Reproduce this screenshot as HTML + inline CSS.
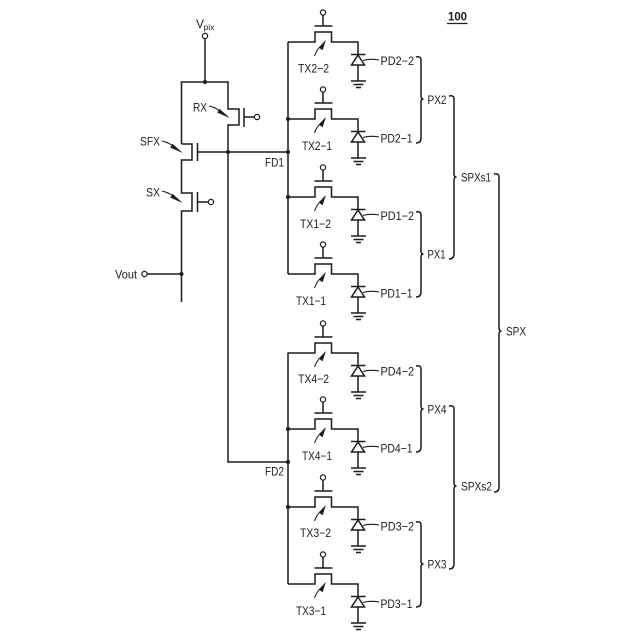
<!DOCTYPE html>
<html><head><meta charset="utf-8">
<style>
html,body{margin:0;padding:0;background:#fff;width:640px;height:640px;overflow:hidden}
svg{display:block}
text{font-family:"Liberation Sans",sans-serif;font-size:12px;fill:#1c1c1c}
.w{fill:none;stroke:#1c1c1c;stroke-width:1.5}
.t{fill:none;stroke:#1c1c1c;stroke-width:1.1}
.c{fill:#fff;stroke:#1c1c1c;stroke-width:1.2}
.d{fill:#1c1c1c}
.h{fill:#1c1c1c;stroke:#1c1c1c;stroke-width:.4}
</style></head>
<body>
<svg width="640" height="640" viewBox="0 0 640 640" xmlns="http://www.w3.org/2000/svg">
<defs>
<g id="b">
<path class="w" d="M288 42H315V32H331.500V42H358V81"/>
<path class="w" d="M314.500 26H332.500M323 26V15"/>
<circle class="c" cx="323" cy="12.500" r="2.600"/>
<path class="w" d="M351 54.500H365.500"/>
<path class="c" d="M358 55L351.500 65H364.500Z" style="stroke-width:1.500"/>
<path class="w" d="M351 81H366M353.500 84.500H363.500M356 87.500H361"/>
<path class="t" d="M363 60.500Q370 58.500 379 60"/>
<path class="t" d="M314.500 56Q317 49 321.500 45.500"/>
<path class="h" d="M325.500 40.500L319 47.500L322.500 50Z"/>
</g>
<g id="a">
<path class="t" d="M0 0Q9 2 14 8"/>
<path class="h" d="M20 11.500L10.500 3L8.500 6.500Z"/>
</g>
</defs>

<!-- left circuit -->
<text x="196" y="28">V</text><text x="203.500" y="30" style="font-size:8.500px">pix</text>
<circle class="c" cx="205" cy="36" r="2.600"/>
<path class="w" d="M205 38.500V82"/>
<path class="w" d="M181.500 144V82H228V109H239V125H228V462H288"/>
<path class="w" d="M181.500 144H192V160H181.500V193H192V211H181.500V302"/>
<path class="w" d="M244 108V127M244 117H255"/>
<circle class="c" cx="257" cy="117" r="2.600"/>
<path class="w" d="M197.500 143V161M197.500 152H288"/>
<path class="w" d="M197.500 192V212M197.500 202H208"/>
<circle class="c" cx="211" cy="202" r="2.600"/>
<circle class="c" cx="144.500" cy="274" r="2.600"/>
<path class="w" d="M147 274H181.500"/>
<use href="#a" x="162" y="141"/>
<use href="#a" x="209" y="106"/>
<use href="#a" x="162" y="191"/>
<text x="140" y="145.500" textLength="20" lengthAdjust="spacingAndGlyphs">SFX</text>
<text x="193" y="111.500" textLength="14" lengthAdjust="spacingAndGlyphs">RX</text>
<text x="146" y="196.500" textLength="14" lengthAdjust="spacingAndGlyphs">SX</text>
<text x="115" y="278.500" textLength="22" lengthAdjust="spacingAndGlyphs">Vout</text>
<text x="265" y="166.500" textLength="19" lengthAdjust="spacingAndGlyphs">FD1</text>
<text x="265" y="475.500" textLength="19" lengthAdjust="spacingAndGlyphs">FD2</text>

<!-- rails -->
<path class="w" d="M288 42V274M288 352.500V584"/>
<use href="#b"/>
<use href="#b" y="77"/>
<use href="#b" y="155"/>
<use href="#b" y="232"/>
<use href="#b" y="311"/>
<use href="#b" y="387"/>
<use href="#b" y="465"/>
<use href="#b" y="542"/>

<g class="d">
<circle cx="205" cy="82" r="2"/><circle cx="228" cy="152" r="2"/><circle cx="181.500" cy="274" r="2"/>
<circle cx="288" cy="119" r="2"/><circle cx="288" cy="152" r="2"/><circle cx="288" cy="197" r="2"/>
<circle cx="288" cy="429" r="2"/><circle cx="288" cy="462" r="2"/><circle cx="288" cy="507" r="2"/>
</g>

<!-- TX labels -->
<text x="298" y="72.500" textLength="31" lengthAdjust="spacingAndGlyphs">TX2−2</text>
<text x="302" y="150" textLength="30" lengthAdjust="spacingAndGlyphs">TX2−1</text>
<text x="300" y="228" textLength="31" lengthAdjust="spacingAndGlyphs">TX1−2</text>
<text x="296" y="305" textLength="30" lengthAdjust="spacingAndGlyphs">TX1−1</text>
<text x="298" y="383" textLength="31" lengthAdjust="spacingAndGlyphs">TX4−2</text>
<text x="302" y="460" textLength="30" lengthAdjust="spacingAndGlyphs">TX4−1</text>
<text x="300" y="537" textLength="31" lengthAdjust="spacingAndGlyphs">TX3−2</text>
<text x="296" y="615" textLength="30" lengthAdjust="spacingAndGlyphs">TX3−1</text>

<!-- PD labels -->
<text x="380.500" y="65" textLength="33.500" lengthAdjust="spacingAndGlyphs">PD2−2</text>
<text x="380.500" y="142.500" textLength="32" lengthAdjust="spacingAndGlyphs">PD2−1</text>
<text x="380.500" y="220" textLength="33.500" lengthAdjust="spacingAndGlyphs">PD1−2</text>
<text x="380.500" y="297.500" textLength="32" lengthAdjust="spacingAndGlyphs">PD1−1</text>
<text x="380.500" y="375.500" textLength="33.500" lengthAdjust="spacingAndGlyphs">PD4−2</text>
<text x="380.500" y="452.500" textLength="32" lengthAdjust="spacingAndGlyphs">PD4−1</text>
<text x="380.500" y="530.500" textLength="33.500" lengthAdjust="spacingAndGlyphs">PD3−2</text>
<text x="380.500" y="608" textLength="32" lengthAdjust="spacingAndGlyphs">PD3−1</text>

<!-- braces -->
<path class="w" d="M416 57Q421 56 421 60V96Q421 99 423.500 99Q421 99 421 102V138Q421 143 416 143"/>
<path class="w" d="M416 212Q421 211 421 215V251Q421 254 423.500 254Q421 254 421 257V292Q421 297 416 297"/>
<path class="w" d="M416 366Q421 365 421 369V406Q421 409 423.500 409Q421 409 421 412V447Q421 452 416 452"/>
<path class="w" d="M416 522Q421 521 421 525V561Q421 564 423.500 564Q421 564 421 567V602Q421 607 416 607"/>
<path class="w" d="M449 96Q454 95 454 99V174Q454 177 456.500 177Q454 177 454 180V254Q454 259 449 259"/>
<path class="w" d="M449 406Q454 405 454 409V483Q454 486 456.500 486Q454 486 454 489V564Q454 569 449 569"/>
<path class="w" d="M494 174Q499 173 499 177V328Q499 331 501.500 331Q499 331 499 334V487Q499 492 494 492"/>

<text x="427.500" y="104" textLength="19" lengthAdjust="spacingAndGlyphs">PX2</text>
<text x="427.500" y="258.500" textLength="18" lengthAdjust="spacingAndGlyphs">PX1</text>
<text x="427.500" y="413.500" textLength="19" lengthAdjust="spacingAndGlyphs">PX4</text>
<text x="427.500" y="568.500" textLength="19" lengthAdjust="spacingAndGlyphs">PX3</text>
<text x="461" y="181.500" textLength="30" lengthAdjust="spacingAndGlyphs">SPXs1</text>
<text x="461" y="490.500" textLength="31" lengthAdjust="spacingAndGlyphs">SPXs2</text>
<text x="506" y="335.500" textLength="20" lengthAdjust="spacingAndGlyphs">SPX</text>
<text x="448" y="20.500" textLength="19" lengthAdjust="spacingAndGlyphs" style="font-weight:bold">100</text>
<path d="M447 23.500H467.500" stroke="#1c1c1c" stroke-width="1.200"/>
</svg>
</body></html>
